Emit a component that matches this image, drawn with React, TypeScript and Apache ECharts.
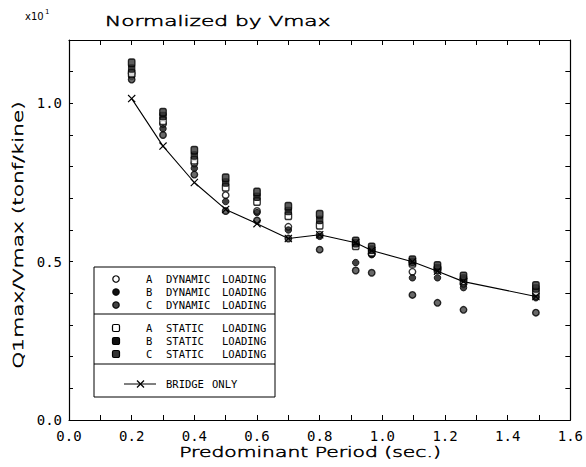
import React, { useEffect, useRef } from "react";
import * as echarts from "echarts";

// Predominant period (sec.)
const periods = [0.2, 0.3, 0.4, 0.5, 0.6, 0.7, 0.8, 0.915, 0.966, 1.096, 1.176, 1.259, 1.49];

// Ql max / Vmax (x10^1 tonf/kine)
const dynamicA = [1.095, 0.935, 0.81, 0.71, 0.66, 0.61, 0.585, 0.555, 0.525, 0.468, 0.475, 0.43, 0.39];
const dynamicB = [1.085, 0.92, 0.795, 0.69, 0.655, 0.6, 0.58, 0.497, 0.522, 0.449, 0.449, 0.418, 0.386];
const dynamicC = [1.075, 0.9, 0.775, 0.66, 0.63, 0.573, 0.538, 0.472, 0.465, 0.395, 0.37, 0.348, 0.339];
const staticA = [1.095, 0.945, 0.82, 0.735, 0.69, 0.645, 0.615, 0.55, 0.53, 0.495, 0.475, 0.44, 0.405];
const staticB = [1.11, 0.96, 0.835, 0.75, 0.705, 0.66, 0.632, 0.558, 0.538, 0.5, 0.48, 0.447, 0.415];
const staticC = [1.128, 0.972, 0.852, 0.765, 0.72, 0.675, 0.65, 0.565, 0.546, 0.506, 0.488, 0.455, 0.425];
const bridgeOnly = [1.015, 0.865, 0.75, 0.665, 0.62, 0.573, 0.585, 0.56, 0.535, 0.5, 0.47, 0.437, 0.39];

const xTitle = "Predominant Period (sec.)";
const yTitle = "Q1max/Vmax (tonf/kine)";
const chartTitle = "Normalized by Vmax";
const legendLetters = ["A", "B", "C"];

const X_PATH = "path://M0,1L1,0L5,4L9,0L10,1L6,5L10,9L9,10L5,6L1,10L0,9L4,5Z";
const FONT = "DejaVu Sans";
const MONO = "DejaVu Sans Mono";

const pairs = (vals: number[]) => periods.map((p, i) => [p, vals[i]]);

export default function App() {
  const ref = useRef<HTMLDivElement>(null);
  useEffect(() => {
    if (!ref.current) return;
    const chart = echarts.init(ref.current, null, { renderer: "svg" });

    const axisCommon = {
      type: "value" as const,
      axisLine: { show: true, onZero: false, lineStyle: { color: "#000", width: 1.2 } },
      splitLine: { show: false },
      minorSplitLine: { show: false },
    };

    const dynStyles = [
      { color: "#fff", borderColor: "#000", borderWidth: 1.4 },
      { color: "#111", borderColor: "#000", borderWidth: 1 },
      { color: "#444", borderColor: "#000", borderWidth: 1.4 },
    ];
    const statStyles = [
      { color: "#fff", borderColor: "#000", borderWidth: 1.4 },
      { color: "#111", borderColor: "#000", borderWidth: 1 },
      { color: "#333", borderColor: "#000", borderWidth: 1.4 },
    ];
    const dynData = [dynamicA, dynamicB, dynamicC];
    const statData = [staticA, staticB, staticC];

    const series: any[] = [];
    dynData.forEach((d, k) => {
      series.push({
        type: "scatter",
        name: legendLetters[k] + " DYNAMIC LOADING",
        data: pairs(d),
        symbol: "circle",
        symbolSize: 6.5,
        itemStyle: dynStyles[k],
        z: 2,
      });
    });
    statData.forEach((d, k) => {
      series.push({
        type: "scatter",
        name: legendLetters[k] + " STATIC LOADING",
        data: pairs(d),
        symbol: "roundRect",
        symbolSize: [6.5, 7.5],
        itemStyle: statStyles[k],
        z: 3,
      });
    });
    series.push({
      type: "line",
      name: "BRIDGE ONLY",
      data: pairs(bridgeOnly),
      symbol: X_PATH,
      symbolSize: 8,
      showSymbol: true,
      lineStyle: { color: "#000", width: 1.1 },
      itemStyle: { color: "#000" },
      z: 4,
    });

    // legend graphic
    const LX = 94, LY = 267, LW = 181, LH = 130;
    const rows1 = [279, 292, 305];
    const rows2 = [328, 341, 354];
    const bridgeRow = 384;
    const symX = 116;
    const legendEls: any[] = [
      { type: "rect", shape: { x: LX, y: LY, width: LW, height: LH }, style: { fill: "#fff", stroke: "#000", lineWidth: 1 }, z: 10 },
      { type: "line", shape: { x1: LX, y1: 314, x2: LX + LW, y2: 314 }, style: { stroke: "#000", lineWidth: 1 }, z: 11 },
      { type: "line", shape: { x1: LX, y1: 364, x2: LX + LW, y2: 364 }, style: { stroke: "#000", lineWidth: 1 }, z: 11 },
    ];
    const txt = (x: number, y: number, text: string) => ({
      type: "text",
      x,
      y,
      z: 12,
      style: { text, fontFamily: MONO, fontSize: 10.5, fill: "#000", textAlign: "left", textVerticalAlign: "middle" },
    });
    rows1.forEach((y, k) => {
      legendEls.push({ type: "circle", shape: { cx: symX, cy: y, r: 3.2 }, style: { fill: dynStyles[k].color, stroke: "#000", lineWidth: 1.2 }, z: 12 });
      legendEls.push(txt(146, y, legendLetters[k]));
      legendEls.push(txt(166, y, "DYNAMIC"));
      legendEls.push(txt(222, y, "LOADING"));
    });
    rows2.forEach((y, k) => {
      legendEls.push({ type: "rect", shape: { x: symX - 3.5, y: y - 3.5, width: 7, height: 7, r: 1.5 }, style: { fill: statStyles[k].color, stroke: "#000", lineWidth: 1.2 }, z: 12 });
      legendEls.push(txt(146, y, legendLetters[k]));
      legendEls.push(txt(166, y, "STATIC"));
      legendEls.push(txt(222, y, "LOADING"));
    });
    legendEls.push({ type: "line", shape: { x1: 124, y1: bridgeRow, x2: 156, y2: bridgeRow }, style: { stroke: "#000", lineWidth: 1 }, z: 12 });
    legendEls.push({ type: "line", shape: { x1: 137, y1: bridgeRow - 3.5, x2: 144, y2: bridgeRow + 3.5 }, style: { stroke: "#000", lineWidth: 1.2 }, z: 12 });
    legendEls.push({ type: "line", shape: { x1: 144, y1: bridgeRow - 3.5, x2: 137, y2: bridgeRow + 3.5 }, style: { stroke: "#000", lineWidth: 1.2 }, z: 12 });
    legendEls.push(txt(166, bridgeRow, "BRIDGE"));
    legendEls.push(txt(212, bridgeRow, "ONLY"));

    const xTick = { show: true, inside: true, length: 5, lineStyle: { color: "#000", width: 1 } };
    const xMinor = { show: true, splitNumber: 2, length: 5, lineStyle: { color: "#000", width: 1 } };

    const thinText = { fontFamily: FONT, fontWeight: 200, fontSize: 14, fill: "#000", stroke: "#000", lineWidth: 0.5 };

    const option: any = {
      animation: false,
      backgroundColor: "#fff",
      grid: { left: 69, right: 15, top: 40, bottom: 47 },
      xAxis: [
        {
          ...axisCommon,
          position: "bottom",
          min: 0,
          max: 1.6,
          interval: 0.2,
          axisTick: xTick,
          minorTick: xMinor,
          axisLabel: {
            color: "#000",
            fontFamily: MONO,
            fontSize: 14,
            margin: 9,
            formatter: (v: number) => v.toFixed(1),
          },
        },
        {
          ...axisCommon,
          position: "top",
          min: 0,
          max: 1.6,
          interval: 0.2,
          axisTick: xTick,
          minorTick: xMinor,
          axisLabel: { show: false },
        },
      ],
      yAxis: [
        {
          ...axisCommon,
          position: "left",
          min: 0,
          max: 1.2,
          interval: 0.1,
          axisTick: { show: true, inside: true, length: 4, lineStyle: { color: "#000" } },
          axisLabel: {
            color: "#000",
            fontFamily: MONO,
            fontSize: 14,
            margin: 7,
            formatter: (v: number) => (Math.abs(v * 2 - Math.round(v * 2)) < 1e-6 ? v.toFixed(1) : ""),
          },
        },
        {
          ...axisCommon,
          position: "right",
          min: 0,
          max: 1.2,
          interval: 0.1,
          axisTick: { show: true, inside: true, length: 5, lineStyle: { color: "#000" } },
          axisLabel: { show: false },
        },
      ],
      series,
      graphic: [
        {
          type: "text",
          x: 105,
          y: 21,
          scaleX: 1.55,
          style: { ...thinText, text: chartTitle, textAlign: "left", textVerticalAlign: "middle" },
        },
        {
          type: "text",
          x: 25,
          y: 16,
          style: { text: "x10", fontFamily: FONT, fontSize: 10, fill: "#000", textAlign: "left", textVerticalAlign: "middle" },
        },
        {
          type: "text",
          x: 45,
          y: 12,
          style: { text: "1", fontFamily: FONT, fontSize: 7, fill: "#000", textAlign: "left", textVerticalAlign: "middle" },
        },
        {
          type: "text",
          x: 310,
          y: 452,
          scaleX: 1.45,
          style: { ...thinText, text: xTitle, textAlign: "center", textVerticalAlign: "middle" },
        },
        {
          type: "text",
          x: 18,
          y: 235,
          rotation: Math.PI / 2,
          scaleX: 1.55,
          style: { ...thinText, text: yTitle, textAlign: "center", textVerticalAlign: "middle" },
        },
        ...legendEls,
      ],
    };
    chart.setOption(option);
    return () => chart.dispose();
  }, []);
  return <div ref={ref} style={{ position: "fixed", left: 0, top: 0, width: 586, height: 467, background: "#fff" }} />;
}
